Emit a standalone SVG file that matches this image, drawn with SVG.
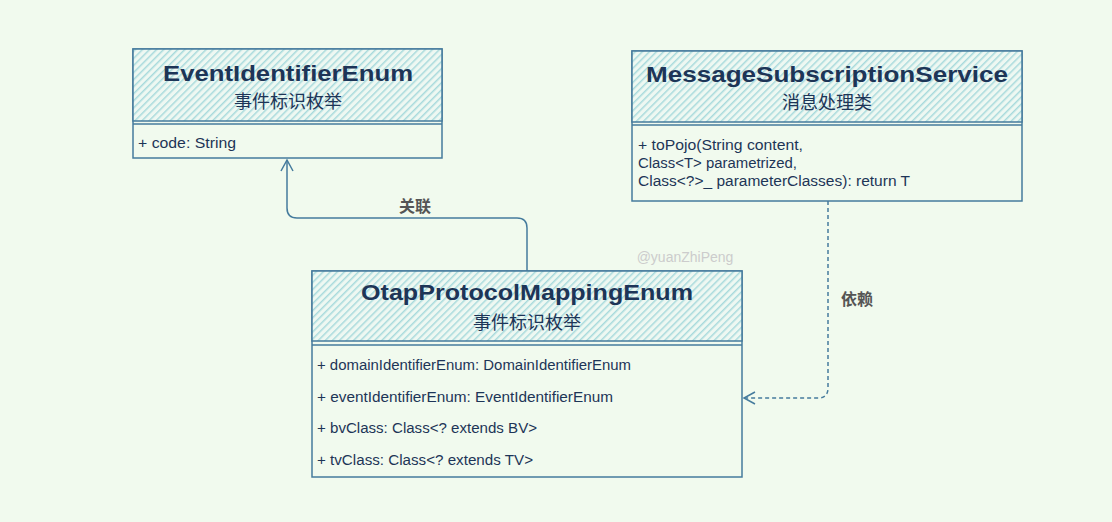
<svg xmlns="http://www.w3.org/2000/svg" width="1112" height="522" viewBox="0 0 1112 522">
<defs>
<pattern id="hatch" patternUnits="userSpaceOnUse" width="5" height="5" patternTransform="rotate(45)">
<rect width="5" height="5" fill="#eef8f2"/>
<line x1="0" y1="0" x2="0" y2="5" stroke="#a8dadc" stroke-width="3"/>
</pattern>
<marker id="open" markerWidth="14" markerHeight="14" refX="12" refY="7" orient="auto" markerUnits="userSpaceOnUse">
<path d="M1,1 L12,7 L1,13" fill="none" stroke="#457b9d" stroke-width="1.5"/>
</marker>
</defs>
<style>
.box{fill:#f1faee;stroke:#457b9d;stroke-width:1.5}
.hdr{fill:url(#hatch);stroke:#457b9d;stroke-width:1.5}
.div{stroke:#457b9d;stroke-width:1.5;fill:none}
.title{font-family:"Liberation Sans",Arial,sans-serif;font-weight:bold;font-size:22px;fill:#1d3557;text-anchor:middle}
.sub{font-family:"Noto Sans CJK SC",sans-serif;font-size:18px;fill:#1d3557;text-anchor:middle}
.attr{font-family:"Liberation Sans",Arial,sans-serif;font-size:14px;fill:#1d3557}
.edge{fill:none;stroke:#457b9d;stroke-width:1.5}
.lbl{font-family:"Noto Sans CJK SC",sans-serif;font-weight:bold;font-size:16px;fill:#555555;text-anchor:middle}
</style>
<rect width="1112" height="522" fill="#f1faee"/>
<text x="685" y="262" font-family="Liberation Sans,Arial,sans-serif" font-size="14" fill="#cccccc" text-anchor="middle">@yuanZhiPeng</text>
<g id="connectors">
<path class="edge" d="M527,271 L527,228 Q527,218 517,218 L297,218 Q287,218 287,208 L287,160" marker-end="url(#open)"/>
<path class="edge" d="M828,201 L828,388 Q828,398 818,398 L744,398" stroke-dasharray="4,3" marker-end="url(#open)"/>
<text class="lbl" x="415" y="212">关联</text>
<text class="lbl" x="857" y="305">依赖</text>
</g>
<g id="EventIdentifierEnum">
<rect class="box" x="133" y="49" width="309" height="109"/>
<rect class="hdr" x="133" y="49" width="309" height="72"/>
<line class="div" x1="133" y1="124" x2="442" y2="124"/>
<text class="title" x="288" y="81" textLength="250" lengthAdjust="spacingAndGlyphs">EventIdentifierEnum</text>
<text class="sub" x="288" y="108">事件标识枚举</text>
<text class="attr" x="138" y="148" textLength="98" lengthAdjust="spacingAndGlyphs">+ code: String</text>
</g>
<g id="MessageSubscriptionService">
<rect class="box" x="632" y="51" width="390" height="150"/>
<rect class="hdr" x="632" y="51" width="390" height="71"/>
<line class="div" x1="632" y1="125" x2="1022" y2="125"/>
<text class="title" x="827" y="82" textLength="362" lengthAdjust="spacingAndGlyphs">MessageSubscriptionService</text>
<text class="sub" x="827" y="109">消息处理类</text>
<text class="attr" x="638" y="150" textLength="165" lengthAdjust="spacingAndGlyphs">+ toPojo(String content,</text>
<text class="attr" x="638" y="168" textLength="159" lengthAdjust="spacingAndGlyphs">Class&lt;T&gt; parametrized,</text>
<text class="attr" x="638" y="186" textLength="272" lengthAdjust="spacingAndGlyphs">Class&lt;?&gt;_ parameterClasses): return T</text>
</g>
<g id="OtapProtocolMappingEnum">
<rect class="box" x="312" y="271" width="430" height="206"/>
<rect class="hdr" x="312" y="271" width="430" height="70"/>
<line class="div" x1="312" y1="345" x2="742" y2="345"/>
<text class="title" x="527" y="300" textLength="332" lengthAdjust="spacingAndGlyphs">OtapProtocolMappingEnum</text>
<text class="sub" x="527" y="329">事件标识枚举</text>
<text class="attr" x="317" y="370" textLength="314" lengthAdjust="spacingAndGlyphs">+ domainIdentifierEnum: DomainIdentifierEnum</text>
<text class="attr" x="317" y="402" textLength="296" lengthAdjust="spacingAndGlyphs">+ eventIdentifierEnum: EventIdentifierEnum</text>
<text class="attr" x="317" y="433" textLength="220" lengthAdjust="spacingAndGlyphs">+ bvClass: Class&lt;? extends BV&gt;</text>
<text class="attr" x="317" y="465" textLength="216" lengthAdjust="spacingAndGlyphs">+ tvClass: Class&lt;? extends TV&gt;</text>
</g>
</svg>
